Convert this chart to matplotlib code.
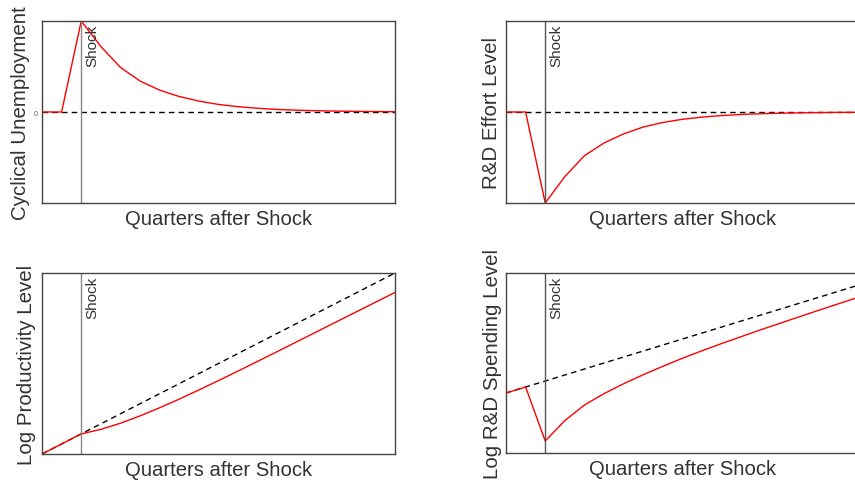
import numpy as np
import matplotlib.pyplot as plt

plt.rcParams['font.family'] = ['Liberation Sans', 'DejaVu Sans']

quarters = np.arange(-2, 17)

# cyclical unemployment (peak normalised to 1 at the shock)
unemployment = [0, 0, 1.0, 0.72, 0.49, 0.34, 0.24, 0.17, 0.12, 0.083, 0.058,
                0.041, 0.028, 0.02, 0.014, 0.01, 0.007, 0.005, 0.003]
# R&D effort relative to steady state
effort = [0, 0, -1.0, -0.71, -0.48, -0.34, -0.24, -0.165, -0.115, -0.08, -0.056,
          -0.039, -0.027, -0.019, -0.013, -0.009, -0.006, -0.004, -0.003]
# log productivity: trend vs shocked path
prod_trend = [0, 1, 2, 3, 4, 5, 6, 7, 8, 9, 10, 11, 12, 13, 14, 15, 16, 17, 18]
prod_path = [0, 1, 2, 2.45, 3.06, 3.79, 4.6, 5.46, 6.37, 7.3, 8.25, 9.22,
             10.19, 11.17, 12.15, 13.13, 14.11, 15.09, 16.07]
# log R&D spending: trend vs shocked path
spend_trend = [-1, 0, 1, 2, 3, 4, 5, 6, 7, 8, 9, 10, 11, 12, 13, 14, 15, 16, 17]
spend_path = [-1, 0, -9.0, -5.6, -3.0, -1.1, 0.55, 2.05, 3.45, 4.8, 6.05, 7.25,
              8.4, 9.55, 10.65, 11.75, 12.85, 13.92, 15.0]

fig = plt.figure(figsize=(8.55, 4.85), dpi=100)
W, H = 855, 485


def make_ax(left, top, right, bottom):
    return fig.add_axes([left / W, 1 - bottom / H, (right - left) / W, (bottom - top) / H])


ax_u = make_ax(42, 22, 395, 204)
ax_e = make_ax(506, 22, 859, 204)
ax_p = make_ax(42, 274, 395, 455)
ax_s = make_ax(506, 274, 859, 454)

panels = [
    (ax_u, unemployment, None, 'Cyclical Unemployment', (-1, 1), -0.062, '#888888'),
    (ax_e, effort, None, 'R&D Effort Level', (-1, 1), -0.042, '#555555'),
    (ax_p, prod_path, prod_trend, 'Log Productivity Level', (0, 18), -0.045, '#888888'),
    (ax_s, spend_path, spend_trend, 'Log R&D Spending Level', (-11, 19), -0.037, '#555555'),
]

for ax, path, trend, ylabel, ylim, ylab_x, shock_col in panels:
    if trend is None:
        ax.axhline(0, color='black', lw=1.0, dashes=(4, 3))
    else:
        ax.plot(quarters, trend, color='black', lw=1.0, dashes=(4, 3))
    ax.plot(quarters, path, color='red', lw=1.0)
    ax.axvline(0, color=shock_col, lw=1.0)
    ax.text(0.2, 0.985, 'Shock', rotation=90, ha='left', va='top', fontsize=11,
            color='#333333', transform=ax.get_xaxis_transform())
    ax.set_xlim(-2, 16)
    ax.set_ylim(*ylim)
    ax.set_xticks([])
    ax.set_yticks([])
    ax.set_xlabel('Quarters after Shock', fontsize=14.6, color='#333333')
    ax.xaxis.set_label_coords(0.5, -0.035)
    ax.xaxis.label.set_va('top')
    ax.set_ylabel(ylabel, fontsize=14.8, color='#333333')
    ax.yaxis.set_label_coords(ylab_x, 0.5)
    ax.yaxis.label.set_va('center')
    for sp in ax.spines.values():
        sp.set_color('#444444')
        sp.set_linewidth(1.0)

# only the unemployment panel shows its zero
ax_u.set_yticks([0])
ax_u.set_yticklabels(['0'], fontsize=5, color='#555555')
ax_u.tick_params(axis='y', length=0, pad=3)

fig.savefig('out.png', dpi=100)
